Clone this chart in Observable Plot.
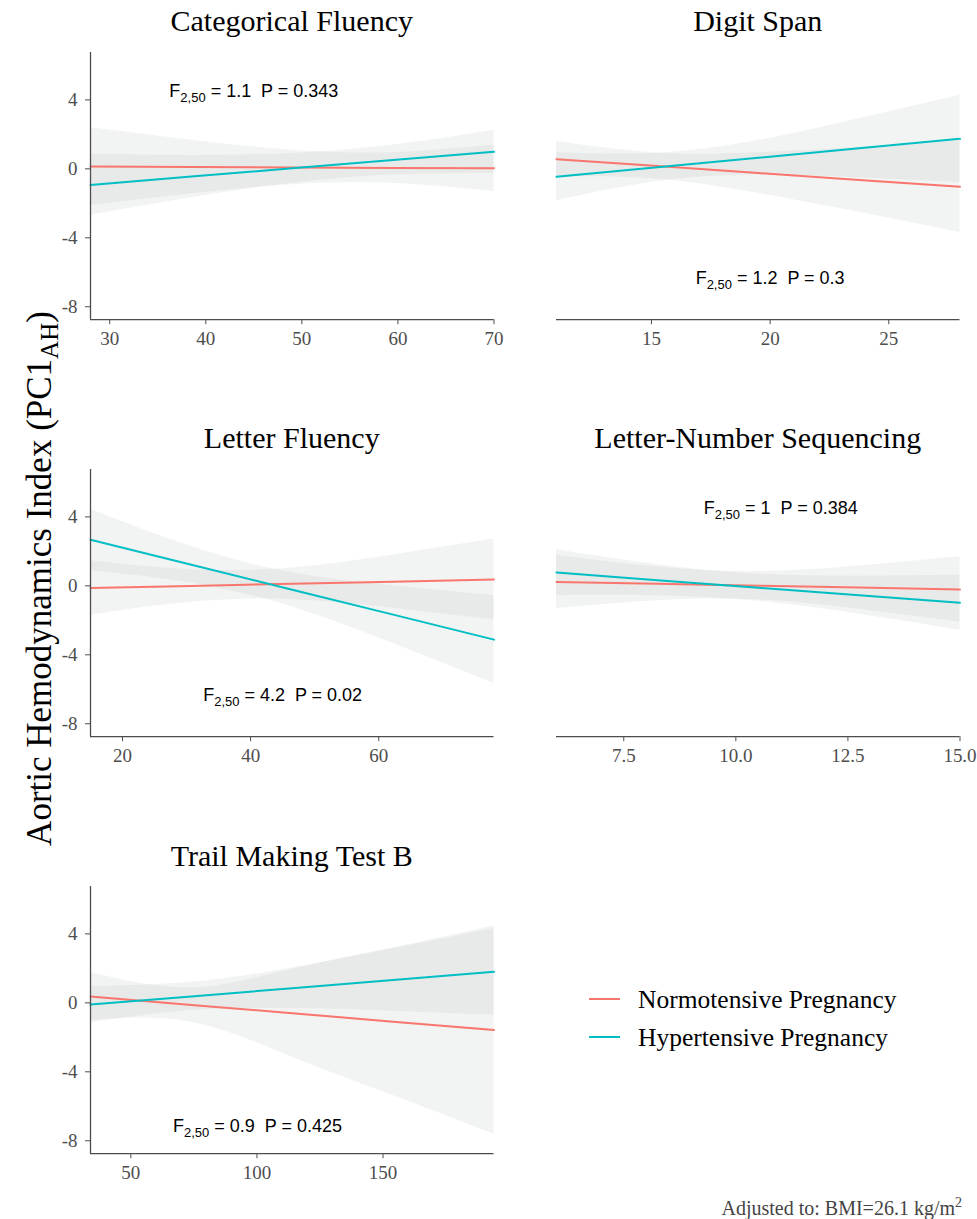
<!DOCTYPE html>
<html><head><meta charset="utf-8">
<script src="https://cdn.jsdelivr.net/npm/d3@7"></script>
<script src="https://cdn.jsdelivr.net/npm/@observablehq/plot@0.6"></script>
<style>
body{margin:0;background:#fff;}
#root{position:relative;width:977px;height:1219px;overflow:hidden;font-family:"Liberation Serif",serif;background:#fff;}
.abs{position:absolute;white-space:nowrap;line-height:1;}
.ptitle{font-size:30px;color:#000;text-align:center;width:460px;}
</style></head><body><div id="root"></div>
<script>
// ---- data ----
const groups = ["Normotensive Pregnancy", "Hypertensive Pregnancy"];
const groupColors = ["#F8766D", "#00BFC4"];
const panelTitles = ["Categorical Fluency", "Digit Span", "Letter Fluency", "Letter-Number Sequencing", "Trail Making Test B"];
const yDomain = [-8.75, 6.75];
const yTicks = [-8, -4, 0, 4];

const catDomain = [28, 70];
const catTicks = [30, 40, 50, 60, 70];
const catX = [28, 38.5, 49, 59.5, 70];
const catNormFit = [0.13, 0.105, 0.08, 0.055, 0.03];
const catNormLo = [-2.12, -1.45, -0.92, -0.83, -1.32];
const catNormHi = [2.38, 1.66, 1.08, 0.94, 1.38];
const catHypFit = [-0.93, -0.45, 0.03, 0.51, 0.99];
const catHypLo = [-2.69, -1.68, -0.83, -0.36, -0.26];
const catHypHi = [0.83, 0.78, 0.89, 1.38, 2.24];

const dsDomain = [11, 28];
const dsTicks = [15, 20, 25];
const dsX = [11, 15.25, 19.5, 23.75, 28];
const dsNormFit = [0.56, 0.16, -0.24, -0.64, -1.04];
const dsNormLo = [-0.46, -0.59, -1.42, -2.52, -3.69];
const dsNormHi = [1.58, 0.91, 0.94, 1.24, 1.61];
const dsHypFit = [-0.46, 0.09, 0.64, 1.19, 1.74];
const dsHypLo = [-1.85, -0.73, -0.36, -0.52, -0.79];
const dsHypHi = [0.93, 0.91, 1.64, 2.90, 4.27];

const lfDomain = [15, 78];
const lfTicks = [20, 40, 60];
const lfX = [15, 30.75, 46.5, 62.25, 78];
const lfNormFit = [-0.13, -0.005, 0.12, 0.245, 0.37];
const lfNormLo = [-1.71, -0.94, -0.79, -1.30, -1.98];
const lfNormHi = [1.45, 0.93, 1.03, 1.79, 2.72];
const lfHypFit = [2.67, 1.22, -0.23, -1.67, -3.12];
const lfHypLo = [0.89, 0.16, -1.22, -3.34, -5.67];
const lfHypHi = [4.45, 2.28, 0.76, 0.00, -0.57];

const lnsDomain = [6, 15];
const lnsTicks = [7.5, 10, 12.5, 15];
const lnsX = [6, 8.25, 10.5, 12.75, 15];
const lnsNormFit = [0.23, 0.12, 0.01, -0.10, -0.21];
const lnsNormLo = [-1.32, -0.86, -0.81, -1.35, -2.11];
const lnsNormHi = [1.78, 1.10, 0.83, 1.15, 1.69];
const lnsHypFit = [0.77, 0.33, -0.11, -0.54, -0.98];
const lnsHypLo = [-0.56, -0.57, -0.90, -1.64, -2.57];
const lnsHypHi = [2.10, 1.23, 0.68, 0.56, 0.61];

const tmtDomain = [34, 194];
const tmtTicks = [50, 100, 150];
const tmtX = [34, 74, 114, 154, 194];
const tmtNormFit = [0.37, -0.12, -0.60, -1.09, -1.57];
const tmtNormLo = [-1.02, -1.12, -3.15, -5.37, -7.62];
const tmtNormHi = [1.76, 0.88, 1.95, 3.19, 4.48];
const tmtHypFit = [-0.10, 0.375, 0.85, 1.33, 1.80];
const tmtHypLo = [-1.15, -0.44, -0.32, -0.48, -0.72];
const tmtHypHi = [0.95, 1.19, 2.02, 3.14, 4.32];

const annoF = ["1.1", "1.2", "4.2", "1", "0.9"];
const annoP = ["0.343", "0.3", "0.02", "0.384", "0.425"];
const annoX = [45, 20, 45, 11, 100.2];
const annoY = [4.52, -6.34, -6.36, 4.52, -7.17];

const captionText = "Adjusted to: BMI=26.1 kg/m";
const yTitleText = "Aortic Hemodynamics Index (PC1";

// ---- build ----
const panels = [
  {domain: catDomain, ticks: catTicks, x: catX, fit: [catNormFit, catHypFit], lo: [catNormLo, catHypLo], hi: [catNormHi, catHypHi]},
  {domain: dsDomain, ticks: dsTicks, x: dsX, fit: [dsNormFit, dsHypFit], lo: [dsNormLo, dsHypLo], hi: [dsNormHi, dsHypHi]},
  {domain: lfDomain, ticks: lfTicks, x: lfX, fit: [lfNormFit, lfHypFit], lo: [lfNormLo, lfHypLo], hi: [lfNormHi, lfHypHi]},
  {domain: lnsDomain, ticks: lnsTicks, x: lnsX, fit: [lnsNormFit, lnsHypFit], lo: [lnsNormLo, lnsHypLo], hi: [lnsNormHi, lnsHypHi], fmt: d => d.toFixed(1)},
  {domain: tmtDomain, ticks: tmtTicks, x: tmtX, fit: [tmtNormFit, tmtHypFit], lo: [tmtNormLo, tmtHypLo], hi: [tmtNormHi, tmtHypHi]}
];

const root = document.getElementById("root");
const axisColor = "#4d4d4d";
const plotW = 403.5, plotH = 267.2, rowStep = 417.3, topRow0 = 51.5;
const colPlotLeft = [90, 556];

panels.forEach((p, i) => {
  const col = i % 2, row = Math.floor(i / 2);
  const isLeft = col === 0;
  const rows = [];
  groups.forEach((g, gi) => p.x.forEach((x, k) => rows.push({g, x, fit: p.fit[gi][k], lo: p.lo[gi][k], hi: p.hi[gi][k]})));
  const mL = isLeft ? 50 : 10, mR = 18, mT = 10, mB = 40;
  const anno = [{x: annoX[i], y: annoY[i], f: annoF[i], p: annoP[i]}];
  const svg = Plot.plot({
    width: mL + plotW + mR,
    height: mT + plotH + mB,
    marginLeft: mL, marginRight: mR, marginTop: mT, marginBottom: mB,
    style: {fontFamily: "Liberation Serif, serif", fontSize: "19px", color: axisColor, background: "transparent", overflow: "visible"},
    x: {domain: p.domain, ticks: p.ticks, tickSize: 5, tickPadding: 7, tickFormat: p.fmt || (d => String(d)), label: null},
    y: isLeft
      ? {domain: yDomain, ticks: yTicks, tickSize: 5, tickPadding: 8, tickFormat: d => String(d), label: null}
      : {domain: yDomain, axis: null},
    color: {domain: groups, range: groupColors},
    marks: [
      Plot.areaY(rows, {x: "x", y1: "lo", y2: "hi", z: "g", fill: "#c6c8c8", fillOpacity: 0.22, curve: "natural"}),
      Plot.lineY(rows, {x: "x", y: "fit", z: "g", stroke: "g", strokeWidth: 2}),
      Plot.ruleY([yDomain[0]], {stroke: axisColor, strokeWidth: 1.3}),
      isLeft ? Plot.ruleX([p.domain[0]], {stroke: axisColor, strokeWidth: 1.3}) : null,
      Plot.text(anno, {x: "x", y: "y", text: d => "ANNO|" + d.f + "|" + d.p, fontFamily: "Liberation Sans, sans-serif", fontSize: 18, fill: "#000", textAnchor: "middle"})
    ]
  });
  d3.select(svg).selectAll("text").each(function () {
    const t = this.textContent;
    if (!t.startsWith("ANNO|")) return;
    const parts = t.split("|");
    const s = d3.select(this);
    s.text(null);
    s.append("tspan").text("F");
    s.append("tspan").attr("font-size", 13).attr("dy", 5).text("2,50");
    s.append("tspan").attr("dy", -5).text(" = " + parts[1] + "\u00A0\u00A0P = " + parts[2]);
  });
  svg.style.position = "absolute";
  svg.style.left = (colPlotLeft[col] - mL) + "px";
  svg.style.top = (topRow0 + row * rowStep - mT) + "px";
  root.appendChild(svg);

  const t = document.createElement("div");
  t.className = "abs ptitle";
  t.textContent = panelTitles[i];
  t.style.left = (colPlotLeft[col] + plotW / 2 - 230) + "px";
  t.style.top = (31 + row * rowStep - 25.1) + "px";
  root.appendChild(t);
});

// y-axis title
const yt = document.createElement("div");
yt.className = "abs";
yt.style.fontSize = "35px";
yt.style.width = "700px";
yt.style.height = "35px";
yt.style.textAlign = "center";
yt.style.left = (39.2 - 350) + "px";
yt.style.top = (578.5 - 17.5) + "px";
yt.style.transform = "rotate(-90deg)";
yt.innerHTML = yTitleText + "<span style='font-size:25px;position:relative;top:7px'>AH</span>)";
root.appendChild(yt);

// legend
groups.forEach((g, gi) => {
  const base = [1008, 1046][gi];
  const ln = document.createElement("div");
  ln.className = "abs";
  ln.style.left = "589px";
  ln.style.width = "31px";
  ln.style.height = "2px";
  ln.style.top = (base - 10.5) + "px";
  ln.style.background = groupColors[gi];
  root.appendChild(ln);
  const tx = document.createElement("div");
  tx.className = "abs";
  tx.style.fontSize = "25.5px";
  tx.style.left = "638px";
  tx.style.top = (base - 21.4) + "px";
  tx.style.color = "#000";
  tx.textContent = g;
  root.appendChild(tx);
});

// caption
const cap = document.createElement("div");
cap.className = "abs";
cap.style.fontSize = "20px";
cap.style.color = "#444";
cap.style.right = (977 - 962) + "px";
cap.style.top = (1215 - 16.75) + "px";
cap.innerHTML = captionText + "<span style='font-size:14px;position:relative;top:-8px'>2</span>";
root.appendChild(cap);
</script></body></html>
